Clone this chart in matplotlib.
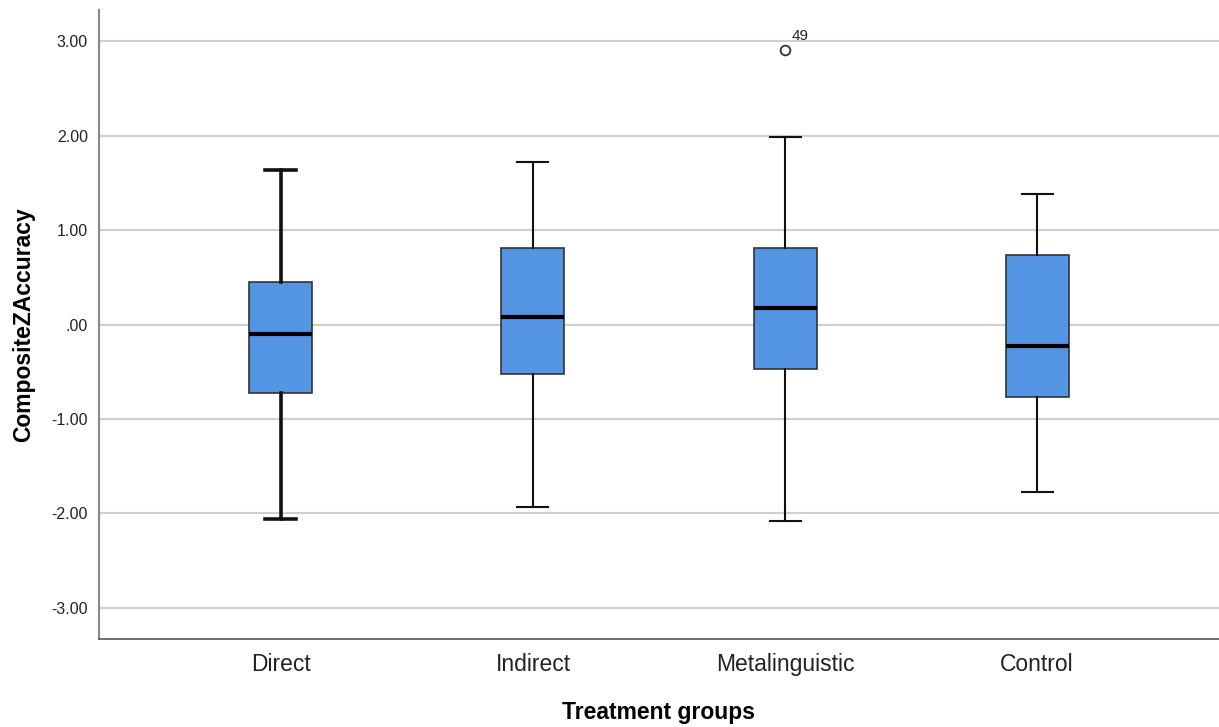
import matplotlib
matplotlib.use("Agg")
import matplotlib.pyplot as plt

plt.rcParams['font.family'] = ['Liberation Sans', 'DejaVu Sans']

groups = ["Direct", "Indirect", "Metalinguistic", "Control"]
whisker_low = [-2.061, -1.934, -2.083, -1.772]
q1 = [-0.725, -0.524, -0.474, -0.764]
median = [-0.10, 0.083, 0.178, -0.224]
q3 = [0.453, 0.813, 0.81, 0.735]
whisker_high = [1.635, 1.727, 1.987, 1.384]
outliers = [[], [], [2.91], []]
outlier_labels = [[], [], ["49"], []]
yticks = [-3, -2, -1, 0, 1, 2, 3]
ytick_labels = ["-3.00", "-2.00", "-1.00", ".00", "1.00", "2.00", "3.00"]

fig = plt.figure(figsize=(12.19, 7.27), dpi=100)
ax = fig.add_axes([0.0812, 0.121, 0.9188, 0.865])

stats = []
for i, g in enumerate(groups):
    stats.append(dict(label=g, whislo=whisker_low[i], q1=q1[i], med=median[i],
                      q3=q3[i], whishi=whisker_high[i], fliers=outliers[i]))

positions = list(range(len(groups)))
bp = ax.bxp(stats, positions=positions, widths=0.25, patch_artist=True,
            showfliers=True,
            boxprops=dict(facecolor="#5394E3", edgecolor="#333333", linewidth=1.2),
            medianprops=dict(color="black", linewidth=3),
            whiskerprops=dict(color="#111111", linewidth=1.5),
            capprops=dict(color="#111111", linewidth=1.5),
            flierprops=dict(marker="o", markerfacecolor="white", markeredgecolor="#333333",
                            markersize=7, markeredgewidth=1.3))
for c in bp['caps']:
    x = c.get_xdata()
    mid = (x[0] + x[1]) / 2
    c.set_xdata([mid - 0.0615, mid + 0.0615])
# Direct group drawn with heavier whiskers
for w in bp['whiskers'][0:2] + bp['caps'][0:2]:
    w.set_linewidth(2.6)

for i, labs in enumerate(outlier_labels):
    for v, lab in zip(outliers[i], labs):
        ax.annotate(lab, (positions[i], v), xytext=(5, 5), textcoords="offset points",
                    fontsize=11, color="#222222", ha="left", va="bottom")

ax.set_xlim(-0.722, 3.722)
ax.set_ylim(-3.33, 3.33)
ax.set_yticks(yticks)
ax.set_yticklabels(ytick_labels)
ax.set_xticks(positions)
ax.set_xticklabels(groups)
ax.tick_params(axis='y', length=0, labelsize=11.5, pad=8, labelcolor="#222222")
ax.tick_params(axis='x', length=0, labelsize=16.5, pad=10, labelcolor="#222222")
ax.yaxis.grid(True, color="#cfcfcf", linewidth=1.5)
ax.set_axisbelow(True)
for s in ["top", "right"]:
    ax.spines[s].set_visible(False)
ax.spines["left"].set_color("#888888")
ax.spines["left"].set_linewidth(1.5)
ax.spines["bottom"].set_color("#555555")
ax.spines["bottom"].set_linewidth(1.2)

ax.set_xlabel("Treatment groups", fontsize=16.5, fontweight="bold", labelpad=18)
ax.set_ylabel("CompositeZAccuracy", fontsize=16.5, fontweight="bold", labelpad=12)

fig.savefig("out.png", dpi=100)
